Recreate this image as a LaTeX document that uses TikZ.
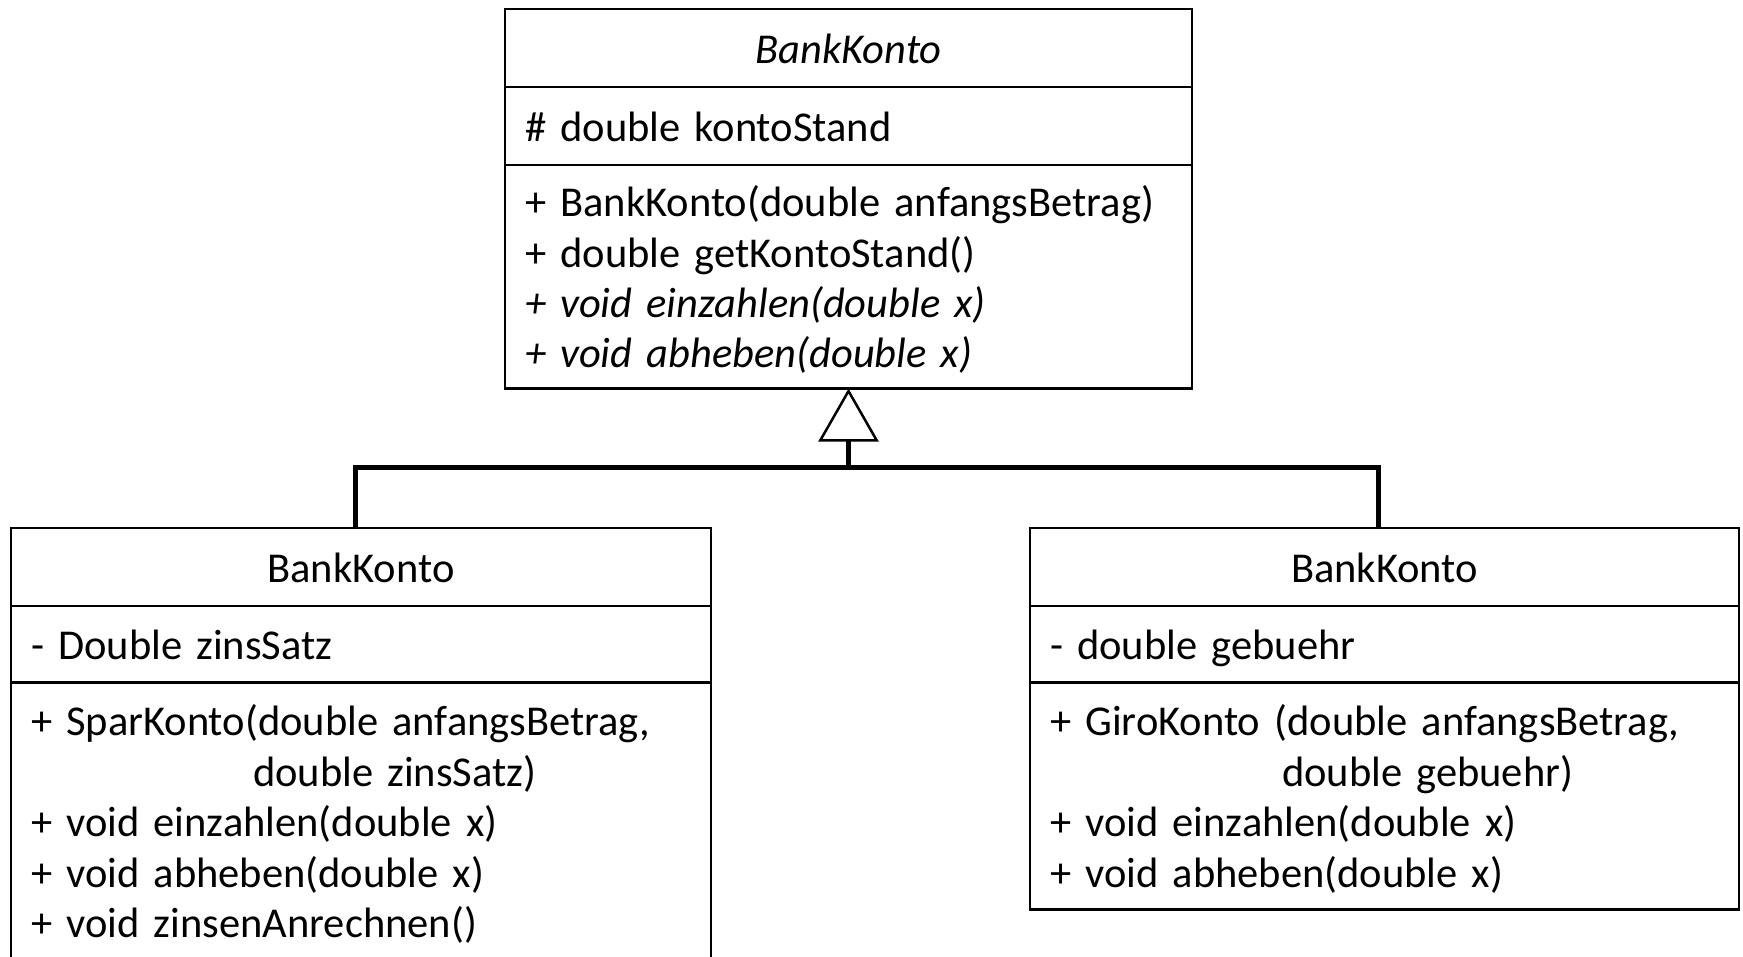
\documentclass[tikz,border=0pt]{standalone}
\usepackage{fontspec}
\setmainfont{Carlito}
\usetikzlibrary{arrows.meta,positioning}

\tikzset{
  fach/.style={draw, line width=2.5pt, rectangle, anchor=north west,
    inner xsep=20pt, inner ysep=0pt, outer sep=0pt,
    font=\fontsize{42.5}{50.4}\selectfont},
  kopf/.style={fach, align=center, text height=36pt, text depth=6pt},
  zeile/.style={fach, align=left, text height=36pt, text depth=6pt},
  liste/.style={fach, align=left},
  erbt/.style={line width=5pt},
}

\begin{document}
\begin{tikzpicture}[x=1pt,y=-1pt]
  \useasboundingbox (0,0) rectangle (1743,956);
  \clip (0,0) rectangle (1743,956);

  % abstrakte Oberklasse
  \node[kopf, text width=647pt, minimum height=78pt] (bk) at (505,9) {\textit{BankKonto}};
  \node[zeile, text width=647pt, minimum height=78pt] (bka) at (bk.south west) {\# double kontoStand};
  \node[liste, text width=647pt, minimum height=223.5pt] (bkm) at (bka.south west)
    {+ BankKonto(double anfangsBetrag)\\
     + double getKontoStand()\\
     \textit{+ void einzahlen(double x)}\\
     \smash{\textit{+ void abheben(double x)}}};

  % SparKonto
  \node[kopf, text width=660pt, minimum height=78pt] (spar) at (11,528) {BankKonto};
  \node[zeile, text width=660pt, minimum height=76.5pt] (spara) at (spar.south west) {- Double zinsSatz};
  \node[liste, text width=660pt, minimum height=277.5pt] (sparm) at (spara.south west)
    {+ SparKonto(double anfangsBetrag,\\
     \hspace*{222pt}double zinsSatz)\\
     + void einzahlen(double x)\\
     + void abheben(double x)\\
     \smash{+ void zinsenAnrechnen()}};

  % GiroKonto
  \node[kopf, text width=669pt, minimum height=78pt] (giro) at (1030,528) {BankKonto};
  \node[zeile, text width=669pt, minimum height=76.5pt] (giroa) at (giro.south west) {- double gebuehr};
  \node[liste, text width=669pt, minimum height=227pt] (girom) at (giroa.south west)
    {+ GiroKonto (double anfangsBetrag,\\
     \hspace*{232pt}double gebuehr)\\
     + void einzahlen(double x)\\
     \smash{+ void abheben(double x)}};

  % Vererbung
  \coordinate (knick) at ([yshift=-79pt]bkm.south);
  \draw[erbt] ([xshift=-6pt]spar.north) |- (knick) -| ([xshift=-6pt]giro.north);
  \draw[erbt, -{Triangle[width=60pt, length=53pt, line width=2.5pt, fill=white]}] (knick) -- (bkm.south);
\end{tikzpicture}
\end{document}
